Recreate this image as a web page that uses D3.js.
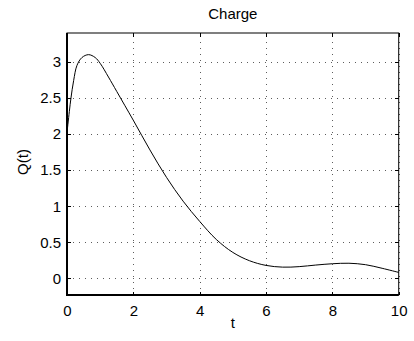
<!DOCTYPE html>
<html>
<head>
<meta charset="utf-8">
<script src="https://cdn.jsdelivr.net/npm/d3@7"></script>
<style>
  html, body { margin: 0; padding: 0; background: #fff; }
  svg { display: block; }
  text { font-family: "Liberation Sans", Arial, Helvetica, sans-serif; fill: #000; }
</style>
</head>
<body>
<svg id="chart" width="414" height="341"></svg>
<script>
// ---- data ----
const tValues = [0, 0.07, 0.12, 0.2, 0.3, 0.45, 0.65, 0.85, 1.0, 1.25, 1.5, 2.0, 2.5, 3.0, 3.5, 4.0, 4.5, 5.0, 5.5, 6.0, 6.5, 7.0, 7.5, 8.0, 8.5, 9.0, 9.5, 10];
const qValues = [2.02, 2.31, 2.5, 2.74, 2.95, 3.06, 3.10, 3.06, 2.98, 2.79, 2.59, 2.19, 1.78, 1.40, 1.07, 0.79, 0.54, 0.36, 0.245, 0.18, 0.156, 0.163, 0.185, 0.203, 0.21, 0.19, 0.14, 0.083];
const xTicks = [0, 2, 4, 6, 8, 10];
const yTicks = [0, 0.5, 1, 1.5, 2, 2.5, 3];
const yTickLabels = ["0", "0.5", "1", "1.5", "2", "2.5", "3"];
const titleText = "Charge";
const xLabel = "t";
const yLabel = "Q(t)";

// ---- layout ----
const L = 67, R = 398.7, T = 33, B = 295;
const svg = d3.select("#chart");

const x = d3.scaleLinear().domain([0, 10]).range([L, R]);
const y = d3.scaleLinear().domain([-0.23, 3.4]).range([B, T]);

// grid
const gridX = svg.append("g").attr("transform", `translate(0,${B})`)
  .call(d3.axisBottom(x).tickValues(xTicks).tickSize(-(B - T)).tickFormat(""));
const gridY = svg.append("g").attr("transform", `translate(${L},0)`)
  .call(d3.axisLeft(y).tickValues(yTicks).tickSize(-(R - L)).tickFormat(""));
[gridX, gridY].forEach(g => {
  g.select(".domain").remove();
  g.selectAll(".tick line")
    .attr("stroke", "#333").attr("stroke-width", 1)
    .attr("stroke-dasharray", "1,5").attr("opacity", 0.8)
    .attr("shape-rendering", "crispEdges");
});

// curve
const data = tValues.map((t, i) => ({ t, q: qValues[i] }));
svg.append("path")
  .datum(data)
  .attr("fill", "none")
  .attr("stroke", "#000")
  .attr("stroke-width", 1)
  .attr("d", d3.line().x(d => x(d.t)).y(d => y(d.q)).curve(d3.curveCatmullRom.alpha(0.5)));

// axes with inward ticks
const tickLen = 3.5;
const axB = svg.append("g").attr("transform", `translate(0,${B})`)
  .call(d3.axisBottom(x).tickValues(xTicks).tickSizeInner(-tickLen).tickSizeOuter(0).tickPadding(10).tickFormat(d3.format("d")));
const axT = svg.append("g").attr("transform", `translate(0,${T})`)
  .call(d3.axisTop(x).tickValues(xTicks).tickSizeInner(-tickLen).tickSizeOuter(0).tickFormat(""));
const axL = svg.append("g").attr("transform", `translate(${L},0)`)
  .call(d3.axisLeft(y).tickValues(yTicks).tickSizeInner(-tickLen).tickSizeOuter(0).tickPadding(6).tickFormat((d, i) => yTickLabels[i]));
const axR = svg.append("g").attr("transform", `translate(${R},0)`)
  .call(d3.axisRight(y).tickValues(yTicks).tickSizeInner(-tickLen).tickSizeOuter(0).tickFormat(""));

[axB, axT, axL, axR].forEach(g => {
  g.select(".domain").remove();
  g.selectAll(".tick line").attr("stroke", "#000").attr("stroke-width", 1).attr("shape-rendering", "crispEdges");
  g.selectAll(".tick text").attr("font-size", 15).attr("font-family", "Liberation Sans, Arial, sans-serif").attr("fill", "#000");
});

// box
svg.append("rect").attr("x", L).attr("y", T).attr("width", R - L).attr("height", B - T)
  .attr("fill", "none").attr("stroke", "#000").attr("stroke-width", 1);
svg.append("line").attr("x1", L).attr("x2", L).attr("y1", T).attr("y2", B + 1)
  .attr("stroke", "#000").attr("stroke-width", 2);
svg.append("line").attr("x1", L - 1).attr("x2", R).attr("y1", B).attr("y2", B)
  .attr("stroke", "#000").attr("stroke-width", 2);

// labels
svg.append("text").attr("x", (L + R) / 2).attr("y", 19).attr("text-anchor", "middle")
  .attr("font-size", 15).text(titleText);
svg.append("text").attr("x", (L + R) / 2).attr("y", 328).attr("text-anchor", "middle")
  .attr("font-size", 15).text(xLabel);
svg.append("text").attr("transform", `translate(28,${(T + B) / 2 - 2}) rotate(-90)`)
  .attr("text-anchor", "middle").attr("font-size", 15).text(yLabel);
</script>
</body>
</html>
